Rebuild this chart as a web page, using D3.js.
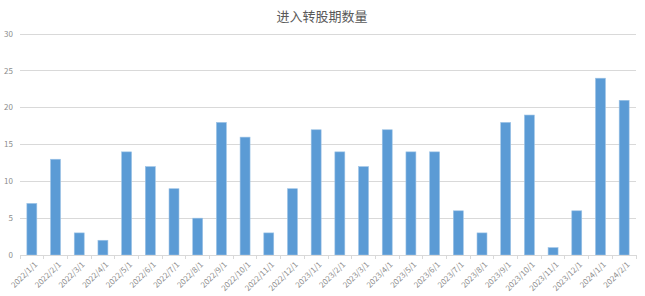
<!DOCTYPE html>
<html><head><meta charset="utf-8">
<script src="https://cdn.jsdelivr.net/npm/d3@7/dist/d3.min.js"></script>
<style>body{margin:0;background:#fff;}svg{display:block;font-family:"Noto Sans CJK SC","Noto Sans",sans-serif;}</style>
</head><body><svg id="c" width="645" height="296"></svg>
<script>
const categories = ["2022/1/1","2022/2/1","2022/3/1","2022/4/1","2022/5/1","2022/6/1","2022/7/1","2022/8/1","2022/9/1","2022/10/1","2022/11/1","2022/12/1","2023/1/1","2023/2/1","2023/3/1","2023/4/1","2023/5/1","2023/6/1","2023/7/1","2023/8/1","2023/9/1","2023/10/1","2023/11/1","2023/12/1","2024/1/1","2024/2/1"];
const values = [7,13,3,2,14,12,9,5,18,16,3,9,17,14,12,17,14,14,6,3,18,19,1,6,24,21];
const yTicks = [0,5,10,15,20,25,30];
const title = "进入转股期数量";

const svg = d3.select("#c");
const m = {l:20, r:9, t:34, b:41};
const W = 645, H = 296;
const x = d3.scaleBand().domain(categories).range([m.l, W-m.r]).paddingInner(0.58).paddingOuter(0.29);
const y = d3.scaleLinear().domain([0,30]).range([H-m.b, m.t]);

svg.append("text").attr("x", 322).attr("y", 21).attr("text-anchor","middle")
  .attr("font-size", 13).attr("fill", "#595959").text(title);

// gridlines
svg.append("g").selectAll("line").data(yTicks.filter(d=>d>0)).join("line")
  .attr("x1", m.l).attr("x2", W-m.r).attr("y1", d=>y(d)).attr("y2", d=>y(d))
  .attr("stroke", "#d9d9d9").attr("stroke-width", 1).attr("shape-rendering","crispEdges");

// y labels
svg.append("g").selectAll("text").data(yTicks).join("text")
  .attr("x", 13).attr("y", d=>y(d)).attr("dy","0.35em").attr("text-anchor","end")
  .attr("font-size", 8).attr("fill", "#8c8c8c").text(d=>d);

// bars
svg.append("g").selectAll("rect").data(values).join("rect")
  .attr("x", (d,i)=>x(categories[i])).attr("width", x.bandwidth())
  .attr("y", d=>y(d)).attr("height", d=>y(0)-y(d))
  .attr("fill", "#5b9bd5").attr("stroke","#9dc3e6").attr("stroke-width",0.6);

// x axis
const xa = svg.append("g").attr("transform", `translate(0,${y(0)})`);
xa.append("line").attr("x1", m.l).attr("x2", W-m.r).attr("stroke","#d9d9d9").attr("shape-rendering","crispEdges");
const step = x.step();
const bounds = d3.range(categories.length+1).map(i => m.l + i*(W-m.r-m.l)/categories.length);
xa.selectAll("line.t").data(bounds).join("line").attr("class","t")
  .attr("x1", d=>d).attr("x2", d=>d).attr("y1",0).attr("y2",4)
  .attr("stroke","#d9d9d9").attr("shape-rendering","crispEdges");
xa.selectAll("text").data(categories).join("text")
  .attr("transform", d=>`translate(${x(d)+x.bandwidth()/2+4},${8}) rotate(-45)`)
  .attr("text-anchor","end").attr("dy","0.35em")
  .attr("font-size", 8).attr("fill","#8c8c8c").text(d=>d);
</script></body></html>
